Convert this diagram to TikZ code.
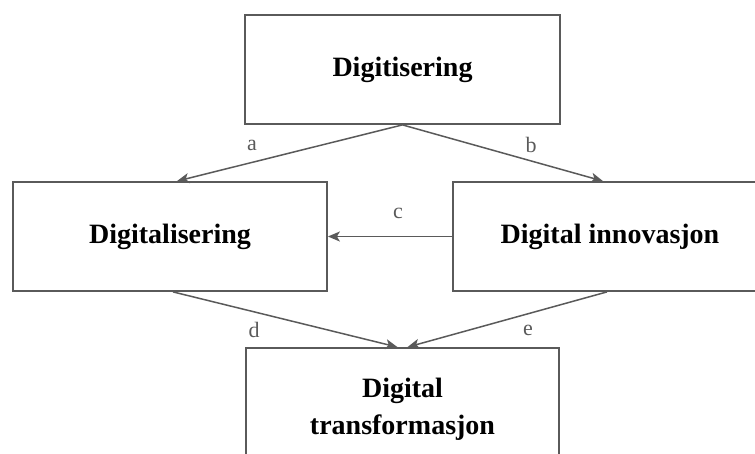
\documentclass[tikz,border=0pt]{standalone}
\usepackage{fontspec}
\setmainfont{Liberation Serif}
\usetikzlibrary{arrows.meta,calc}
\definecolor{linegray}{HTML}{5A5A5A}
\begin{document}
\begin{tikzpicture}[x=1pt,y=-1pt,
  box/.style={draw=linegray,line width=1.8pt,rectangle,minimum width=314pt,align=center,
    font=\fontsize{28}{37}\selectfont\bfseries,inner sep=0pt},
  conn/.style={draw=linegray,line width=1.5pt,-{Stealth[length=12pt,width=10pt,inset=3pt]}},
  lbl/.style={text=linegray,font=\fontsize{22}{26}\selectfont,inner sep=0pt}]
\useasboundingbox (0,0) rectangle (755,453);
\node[box,minimum width=315pt,minimum height=109pt] (top) at (402.5,69.5) {Digitisering};
\node[box,minimum height=109pt] (left) at (170,236.5) {Digitalisering};
\node[box,minimum height=109pt] (right) at (610,236.5) {Digital innovasjon};
\node[box,minimum width=313pt,minimum height=122pt] (bot) at (402.5,409) {Digital\\transformasjon};
\draw[conn] (top.south) -- ($(left.north)+(7,0)$);
\draw[conn] (top.south) -- ($(right.north)+(-7,0)$);
\draw[conn] (right.west) -- (left.east);
\draw[conn] ($(left.south)+(3,0)$) -- ($(bot.north)+(-5,0)$);
\draw[conn] ($(right.south)+(-3,0)$) -- ($(bot.north)+(5,0)$);
\node[lbl] (la) at (252,145) {a};
\node[lbl] (lb) at (531,145) {b};
\node[lbl] (lc) at (398,213) {c};
\node[lbl] (ld) at (254,330) {d};
\node[lbl] (le) at (528,330) {e};
\end{tikzpicture}
\end{document}
